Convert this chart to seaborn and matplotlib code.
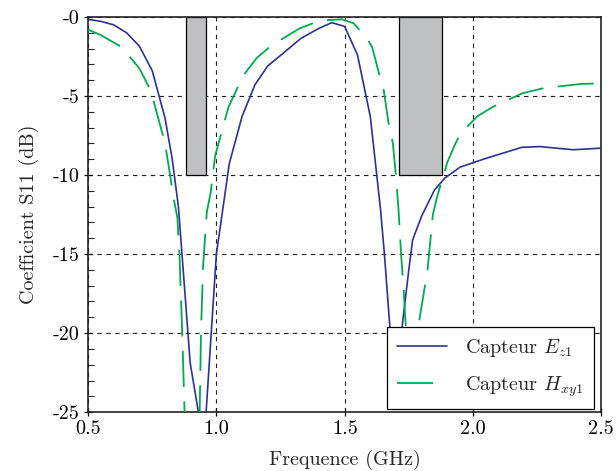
import numpy as np
import pandas as pd
import matplotlib
matplotlib.use("Agg")
import matplotlib.pyplot as plt
from matplotlib.ticker import MultipleLocator
import seaborn as sns

# ---- data ----
freq_ez = [0.50, 0.55, 0.60, 0.65, 0.70, 0.75, 0.80, 0.828, 0.852, 0.866, 0.898, 0.930, 0.951,
           0.960, 1.000, 1.030, 1.050, 1.100, 1.150, 1.200, 1.260, 1.330, 1.400, 1.450, 1.500,
           1.550, 1.600, 1.640, 1.655, 1.678, 1.695, 1.721, 1.750, 1.765, 1.800, 1.850, 1.890,
           1.950, 2.050, 2.190, 2.260, 2.390, 2.500]
s11_ez = [-0.15, -0.28, -0.50, -1.00, -1.85, -3.40, -6.40, -9.00, -12.0, -15.0, -21.9, -25.0, -27.0,
          -25.0, -15.0, -11.6, -9.30, -6.30, -4.30, -3.10, -2.30, -1.35, -0.72, -0.36, -0.60,
          -2.40, -6.30, -12.2, -15.0, -20.0, -23.6, -20.0, -16.0, -14.1, -12.6, -10.95, -10.2,
          -9.50, -8.95, -8.25, -8.20, -8.40, -8.30]

freq_hxy = [0.50, 0.55, 0.63, 0.70, 0.745, 0.80, 0.835, 0.848, 0.856, 0.867, 0.876, 0.910,
            0.935, 0.940, 0.948, 0.963, 0.977, 0.995, 1.047, 1.105, 1.157, 1.215, 1.325, 1.403,
            1.490, 1.535, 1.587, 1.607, 1.632, 1.652, 1.671, 1.688, 1.700, 1.710, 1.720, 1.730,
            1.740, 1.760, 1.788, 1.823, 1.844, 1.860, 1.900, 1.932, 1.951, 2.016, 2.076, 2.192,
            2.277, 2.420, 2.500]
s11_hxy = [-0.80, -1.15, -1.90, -3.25, -4.70, -8.00, -11.6, -12.7, -15.0, -20.0, -25.0, -42.0,
           -25.0, -20.0, -15.8, -12.3, -11.2, -8.80, -5.70, -3.70, -2.60, -1.80, -0.72, -0.23,
           -0.15, -0.40, -1.35, -1.90, -3.46, -4.60, -6.70, -8.00, -10.1, -12.2, -15.0, -17.3,
           -20.0, -23.0, -19.5, -16.0, -12.5, -11.4, -9.20, -8.00, -7.40, -6.30, -5.70, -4.83,
           -4.50, -4.24, -4.20]

band_lo = [0.88, 1.71]
band_hi = [0.96, 1.88]
band_top = 0
band_bottom = -10

xticks = [0.5, 1.0, 1.5, 2.0, 2.5]
xtick_labels = ["0.5", "1.0", "1.5", "2.0", "2.5"]
yticks = [0, -5, -10, -15, -20, -25]
ytick_labels = ["-0", "-5", "-10", "-15", "-20", "-25"]

label_ez = r"Capteur $E_{z1}$"
label_hxy = r"Capteur $H_{xy1}$"

# ---- style ----
sns.set_style("ticks")
plt.rcParams["font.family"] = ["cmr10", "DejaVu Serif"]
plt.rcParams["mathtext.fontset"] = "cm"
plt.rcParams["axes.unicode_minus"] = False
plt.rcParams["axes.formatter.use_mathtext"] = True

fig = plt.figure(figsize=(6.16, 4.71), dpi=100)
ax = fig.add_axes([0.143, 0.125, 0.833, 0.839])

# bands
lo = np.array(band_lo)
hi = np.array(band_hi)
ax.bar(lo, band_top - band_bottom, width=hi - lo, bottom=band_bottom, align="edge",
       color="#bfc0c2", edgecolor="black", linewidth=0.9, zorder=1)

df_ez = pd.DataFrame({"f": freq_ez, "s": s11_ez})
df_hxy = pd.DataFrame({"f": freq_hxy, "s": s11_hxy})

sns.lineplot(data=df_ez, x="f", y="s", ax=ax, sort=False, estimator=None,
             color="#2e3192", linewidth=1.2, label=label_ez, zorder=3)
sns.lineplot(data=df_hxy, x="f", y="s", ax=ax, sort=False, estimator=None,
             color="#00a94f", linewidth=1.3, linestyle=(0, (20, 8)), label=label_hxy, zorder=3)

ax.set_xlim(0.5, 2.5)
ax.set_ylim(-25, 0)
ax.set_xticks(xticks)
ax.set_xticklabels(xtick_labels)
ax.set_yticks(yticks)
ax.set_yticklabels(ytick_labels)
ax.yaxis.set_minor_locator(MultipleLocator(1))

ax.grid(True, which="major", color="#222222", linestyle=(0, (4, 4)), linewidth=0.8, zorder=0)
ax.set_axisbelow(True)

ax.tick_params(axis="both", which="major", direction="inout", length=6, width=0.9,
               labelsize=14.5, pad=3, colors="black")
ax.tick_params(axis="y", which="minor", direction="in", length=4, width=0.8)
for sp in ax.spines.values():
    sp.set_visible(True)
    sp.set_color("#222222")
    sp.set_linewidth(1.2)

ax.set_xlabel("Frequence (GHz)", fontsize=14.5, labelpad=8)
ax.set_ylabel("Coefficient S11 (dB)", fontsize=14.5, labelpad=10)

leg = ax.legend(loc="lower right", bbox_to_anchor=(0.985, 0.008), borderaxespad=0,
                fontsize=14.5, frameon=True, fancybox=False, framealpha=1, edgecolor="black",
                handlelength=2.5, handletextpad=0.9, labelspacing=0.75, borderpad=0.5)
leg.get_frame().set_linewidth(0.9)
leg.set_zorder(5)

fig.savefig("out.png", dpi=100)
